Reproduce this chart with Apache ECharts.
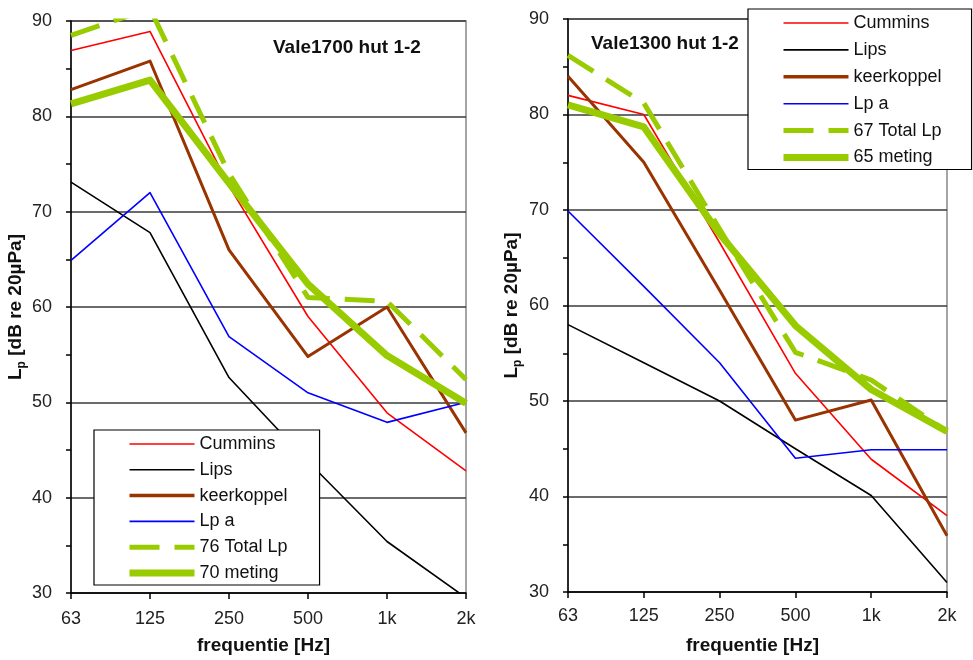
<!DOCTYPE html>
<html><head><meta charset="utf-8">
<script src="https://cdn.jsdelivr.net/npm/echarts@6/dist/echarts.min.js"></script>
<style>html,body{margin:0;padding:0;background:#fff}#c{width:973px;height:660px}</style>
</head><body><div id="c"></div>
<script>
const categories = ['63', '125', '250', '500', '1k', '2k'];
const yTicks = [30, 40, 50, 60, 70, 80, 90];

const titleLeft = 'Vale1700 hut 1-2';
const titleRight = 'Vale1300 hut 1-2';

// Left panel: Vale1700 hut 1-2
const cumminsL = [86.9, 88.9, 72.7, 59.0, 48.9, 42.8];
const lipsL    = [73.1, 67.8, 52.6, 43.8, 35.4, 29.5];
const keerL    = [82.8, 85.8, 66.0, 54.8, 60.0, 46.8];
const lpaL     = [64.9, 72.0, 56.9, 51.0, 47.9, 50.0];
const totalL   = [88.5, 91.3, 74.0, 61.0, 60.6, 52.4];
const metingL  = [81.3, 83.8, 73.0, 62.4, 54.9, 49.9];

// Right panel: Vale1300 hut 1-2
const cumminsR = [82.0, 80.0, 66.6, 52.9, 43.9, 38.0];
const lipsR    = [58.0, 54.0, 50.0, 45.0, 40.1, 31.0];
const keerR    = [84.0, 75.0, 61.6, 48.0, 50.1, 35.9];
const lpaR     = [69.9, 62.0, 54.0, 44.0, 44.9, 44.9];
const totalR   = [86.2, 81.2, 68.0, 55.1, 52.2, 46.8];
const metingR  = [81.0, 78.7, 67.5, 57.9, 51.2, 46.8];

const namesL = ['Cummins', 'Lips', 'keerkoppel', 'Lp a', '76 Total Lp', '70 meting'];
const namesR = ['Cummins', 'Lips', 'keerkoppel', 'Lp a', '67 Total Lp', '65 meting'];

const FONT = 'Arial, "Liberation Sans", sans-serif';
const colors = ['#FF0000', '#000000', '#993300', '#0000FF', '#99CC00', '#99CC00'];
const widths = [1.6, 1.6, 3, 1.6, 5, 7];
const types  = ['solid', 'solid', 'solid', 'solid', [30, 15], 'solid'];

const chart = echarts.init(document.getElementById('c'), null, {renderer: 'canvas'});

function mkSeries(names, datas, gi) {
  return names.map((n, i) => ({
    name: n, type: 'line', xAxisIndex: gi, yAxisIndex: gi,
    data: datas[i], symbol: 'none', smooth: false, clip: true,
    z: i >= 4 ? 3 : 2,
    lineStyle: {color: colors[i], width: widths[i], type: types[i], cap: 'butt', join: 'round'},
    itemStyle: {color: colors[i]},
    emphasis: {disabled: true}
  }));
}
function mkLegendData(names) {
  return names.map((n, i) => ({
    name: n,
    lineStyle: {color: colors[i], width: i === 2 ? 3.5 : widths[i], type: types[i], cap: 'butt'},
    itemStyle: {color: colors[i], opacity: 0}
  }));
}
function mkX(gi, gap, label) {
  return {
    type: 'category', gridIndex: gi, data: categories, boundaryGap: false,
    axisLine: {show: true, lineStyle: {color: '#000', width: 1.5}},
    axisTick: {show: true, inside: false, length: 6, alignWithLabel: true, lineStyle: {color: '#000', width: 1.5}},
    axisLabel: {fontSize: 18, color: '#222', fontFamily: FONT, margin: label},
    splitLine: {show: false},
    name: 'frequentie [Hz]', nameLocation: 'middle', nameGap: gap,
    nameTextStyle: {fontSize: 19, fontWeight: 'bold', color: '#111', fontFamily: FONT, padding: [0, 10, 0, 0]}
  };
}
function mkY(gi, gap) {
  return {
    type: 'value', gridIndex: gi, min: yTicks[0], max: yTicks[yTicks.length - 1], interval: 10,
    axisLine: {show: true, lineStyle: {color: '#000', width: 1.5}},
    axisTick: {show: true, inside: false, length: 5, lineStyle: {color: '#000', width: 1.5}},
    minorTick: {show: true, splitNumber: 2, length: 5, lineStyle: {color: '#000', width: 1.5}},
    axisLabel: {fontSize: 18, color: '#222', fontFamily: FONT, margin: 19},
    splitLine: {show: true, lineStyle: {color: '#3a3a3a', width: 1.5}},
    name: '{m|L}{s|p}{m| [dB re 20µPa]}', nameLocation: 'middle', nameRotate: 90, nameGap: gap,
    nameTextStyle: {
      fontFamily: FONT, color: '#111',
      rich: {
        m: {fontSize: 19, fontWeight: 'bold', fontFamily: FONT, color: '#111', lineHeight: 24, verticalAlign: 'middle'},
        s: {fontSize: 12, fontWeight: 'bold', fontFamily: FONT, color: '#111', lineHeight: 12, verticalAlign: 'bottom'}
      }
    }
  };
}

const option = {
  backgroundColor: '#fff',
  animation: false,
  title: [
    {text: titleLeft, left: 268, top: 33, textStyle: {fontSize: 19, fontWeight: 'bold', color: '#111', fontFamily: FONT}},
    {text: titleRight, left: 586, top: 29, textStyle: {fontSize: 19, fontWeight: 'bold', color: '#111', fontFamily: FONT}}
  ],
  grid: [
    {left: 71, top: 21, width: 395, height: 577, show: true, borderColor: '#888', borderWidth: 1.5, backgroundColor: 'transparent'},
    {left: 568, top: 19, width: 379, height: 574, show: true, borderColor: '#888', borderWidth: 1.5, backgroundColor: 'transparent'}
  ],
  xAxis: [mkX(0, 43, 17), mkX(1, 44, 15)],
  yAxis: [mkY(0, 34), mkY(1, 44)],
  legend: [
    {
      data: mkLegendData(namesL), orient: 'vertical', left: 94, top: 430,
      itemWidth: 65, itemHeight: 14, itemGap: 7.8, padding: [5, 32, 3, 32],
      backgroundColor: '#fff', borderColor: '#000', borderWidth: 1.2, borderRadius: 0,
      textStyle: {fontSize: 18, color: '#111', fontFamily: FONT, lineHeight: 18},
      selectedMode: false, z: 10
    },
    {
      data: mkLegendData(namesR), orient: 'vertical', left: 748, top: 9,
      itemWidth: 65, itemHeight: 14, itemGap: 8.9, padding: [5, 30, 3, 32],
      backgroundColor: '#fff', borderColor: '#000', borderWidth: 1.2, borderRadius: 0,
      textStyle: {fontSize: 18, color: '#111', fontFamily: FONT, lineHeight: 18},
      selectedMode: false, z: 10
    }
  ],
  series: [
    ...mkSeries(namesL, [cumminsL, lipsL, keerL, lpaL, totalL, metingL], 0),
    ...mkSeries(namesR, [cumminsR, lipsR, keerR, lpaR, totalR, metingR], 1)
  ]
};
chart.setOption(option);
</script>
</body></html>
